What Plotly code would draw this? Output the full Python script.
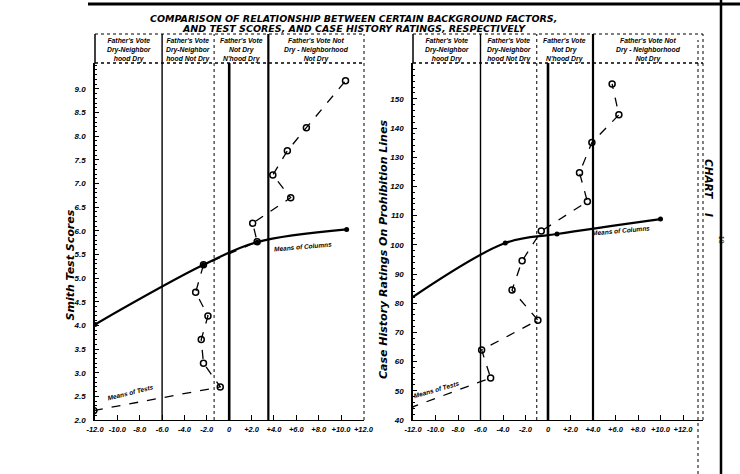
import plotly.graph_objects as go

W, H = 740, 474

# ---------------- data ----------------
x_tick_vals = [-12, -10, -8, -6, -4, -2, 0, 2, 4, 6, 8, 10, 12]
x_tick_text = ["-12.0", "-10.0", "-8.0", "-6.0", "-4.0", "-2.0", "0",
               "+2.0", "+4.0", "+6.0", "+8.0", "+10.0", "+12.0"]

left_y_ticks = [2.0, 2.5, 3.0, 3.5, 4.0, 4.5, 5.0, 5.5, 6.0, 6.5, 7.0, 7.5, 8.0, 8.5, 9.0]
left_y_text = ["2.0", "2.5", "3.0", "3.5", "4.0", "4.5", "5.0", "5.5",
               "6.0", "6.5", "7.0", "7.5", "8.0", "8.5", "9.0"]

right_y_ticks = [40, 50, 60, 70, 80, 90, 100, 110, 120, 130, 140, 150]
right_y_text = ["40", "50", "60", "70", "80", "90", "100", "110", "120", "130", "140", "150"]

# Smith Test Scores (left)
left_tests_x = [-12.1, -0.8, -2.3, -2.5, -1.9, -3.0, -2.3, 2.5, 2.1, 5.5, 3.9, 5.2, 6.9, 10.4]
left_tests_y = [2.2, 2.7, 3.2, 3.7, 4.2, 4.7, 5.28, 5.77, 6.16, 6.7, 7.18, 7.69, 8.18, 9.17]
left_cols_x = [-12.0, -2.3, 2.5, 10.5]
left_cols_y = [4.02, 5.28, 5.76, 6.03]
left_bounds = [-6.0, -1.35, 0.0, 3.5]

# Case History Ratings (right)
right_tests_x = [-12.3, -5.1, -5.9, -0.9, -3.2, -2.3, -0.6, 3.5, 2.8, 3.9, 6.3, 5.7]
right_tests_y = [44.1, 54.4, 64.0, 74.2, 84.5, 94.5, 104.7, 114.8, 124.7, 135.0, 144.5, 155.1]
right_cols_x = [-12.3, -3.8, 0.8, 10.0]
right_cols_y = [81.4, 100.6, 103.7, 108.8]
right_bounds = [-6.0, -1.0, 0.0, 4.0]

headers = ["Father's Vote<br>Dry-Neighbor<br>hood Dry",
           "Father's Vote<br>Dry-Neighbor<br>hood Not Dry",
           "Father's Vote<br>Not Dry<br>N'hood Dry",
           "Father's Vote Not<br>Dry - Neighborhood<br>Not Dry"]

title_lines = ["COMPARISON OF RELATIONSHIP BETWEEN CERTAIN BACKGROUND FACTORS,",
               "AND TEST SCORES, AND CASE HISTORY RATINGS, RESPECTIVELY"]

# ---------------- layout helpers ----------------
def px_x(p):
    return p / W

def px_y(p):
    return 1 - p / H

FONT = "Liberation Sans"
tick_font = dict(family=FONT, size=8, color="black", weight="bold", style="italic")
xtick_font = dict(family=FONT, size=7.5, color="black", weight="bold", style="italic")

Y_BOT, Y_TOP, Y_HEAD = 420, 63, 34
L_X0, L_X1 = 95, 364
R_X0, R_X1 = 413, 703

fig = go.Figure()

fig.add_trace(go.Scatter(x=left_tests_x, y=left_tests_y, mode="lines+markers",
                         line=dict(color="black", width=1.3, dash="dash"),
                         marker=dict(symbol="circle-open", size=6, color="black", line=dict(width=1.5)),
                         xaxis="x", yaxis="y", showlegend=False))
fig.add_trace(go.Scatter(x=left_cols_x, y=left_cols_y, mode="lines+markers", line_shape="spline",
                         line=dict(color="black", width=2.2),
                         marker=dict(symbol="circle", size=5, color="black"),
                         xaxis="x", yaxis="y", showlegend=False))
fig.add_trace(go.Scatter(x=right_tests_x, y=right_tests_y, mode="lines+markers",
                         line=dict(color="black", width=1.3, dash="dash"),
                         marker=dict(symbol="circle-open", size=6, color="black", line=dict(width=1.5)),
                         xaxis="x2", yaxis="y2", showlegend=False))
fig.add_trace(go.Scatter(x=right_cols_x, y=right_cols_y, mode="lines+markers", line_shape="spline",
                         line=dict(color="black", width=2.2),
                         marker=dict(symbol="circle", size=5, color="black"),
                         xaxis="x2", yaxis="y2", showlegend=False))

ydom = [px_y(Y_BOT), px_y(Y_TOP)]
common_x = dict(tickvals=x_tick_vals, ticktext=x_tick_text, tickfont=xtick_font, tickangle=0,
                showline=True, linecolor="black", linewidth=1.2, ticks="inside",
                ticklen=5, tickcolor="black", showgrid=False, zeroline=False,
                automargin=False, fixedrange=True, ticklabelstandoff=2)
common_y = dict(tickfont=tick_font, showline=True, linecolor="black", linewidth=1.5,
                ticks="inside", ticklen=4, tickcolor="black", showgrid=False,
                zeroline=False, automargin=False, fixedrange=True, ticklabelstandoff=6)

fig.update_layout(
    width=W, height=H, margin=dict(l=0, r=0, t=0, b=0), autosize=False,
    paper_bgcolor="white", plot_bgcolor="white",
    xaxis=dict(domain=[px_x(L_X0), px_x(L_X1)], range=[-12, (L_X1 - 229) / 11.2],
               anchor="y", **common_x),
    yaxis=dict(domain=ydom, range=[2.0, 2.0 + (Y_BOT - Y_TOP) / 47.3], anchor="x",
               tickvals=left_y_ticks, ticktext=left_y_text,
               minor=dict(ticks="inside", ticklen=2, dtick=0.1, tickcolor="black"), **common_y),
    xaxis2=dict(domain=[px_x(R_X0), px_x(R_X1)], range=[-12, (R_X1 - 548) / 11.25],
                anchor="y2", **common_x),
    yaxis2=dict(domain=ydom, range=[40, 40 + (Y_BOT - Y_TOP) / 2.92], anchor="x2",
                tickvals=right_y_ticks, ticktext=right_y_text,
                minor=dict(ticks="inside", ticklen=2, dtick=2, tickcolor="black"), **common_y),
)

shapes = []
# top page rule and right binding rule
shapes.append(dict(type="line", xref="paper", yref="paper", x0=px_x(88), x1=1,
                   y0=px_y(4), y1=px_y(4), line=dict(color="black", width=3)))
shapes.append(dict(type="line", xref="paper", yref="paper", x0=px_x(721), x1=px_x(721),
                   y0=0, y1=1, line=dict(color="black", width=2.5)))
shapes.append(dict(type="line", xref="paper", yref="paper", x0=px_x(698), x1=px_x(698),
                   y0=px_y(474), y1=px_y(40), line=dict(color="black", width=1, dash="dot")))

for (x0, x1, xr, bounds) in [(L_X0, L_X1, "x", left_bounds), (R_X0, R_X1, "x2", right_bounds)]:
    # header box
    shapes.append(dict(type="line", xref="paper", yref="paper", x0=px_x(x0), x1=px_x(x1),
                       y0=px_y(Y_HEAD), y1=px_y(Y_HEAD), line=dict(color="black", width=1, dash="dot")))
    shapes.append(dict(type="line", xref="paper", yref="paper", x0=px_x(x0), x1=px_x(x1),
                       y0=px_y(Y_TOP), y1=px_y(Y_TOP), line=dict(color="black", width=1.3, dash="dot")))
    shapes.append(dict(type="line", xref="paper", yref="paper", x0=px_x(x0), x1=px_x(x0),
                       y0=px_y(Y_TOP), y1=px_y(Y_HEAD), line=dict(color="black", width=1.5)))
    shapes.append(dict(type="line", xref="paper", yref="paper", x0=px_x(x1), x1=px_x(x1),
                       y0=px_y(Y_BOT), y1=px_y(Y_HEAD), line=dict(color="black", width=1, dash="dot")))
    styles = [dict(width=1.4, dash="solid"), dict(width=1, dash="dot"),
              dict(width=2.6, dash="solid"), dict(width=2.2, dash="solid")]
    for i, (b, st) in enumerate(zip(bounds, styles)):
        top = Y_TOP if i == 2 else Y_HEAD
        shapes.append(dict(type="line", xref=xr, yref="paper", x0=b, x1=b,
                           y0=px_y(Y_BOT), y1=px_y(top), line=dict(color="black", **st)))

annotations = []
hfont = dict(family=FONT, size=6.8, color="black", weight="bold", style="italic")
for xr, bounds, xmax in [("x", left_bounds, (L_X1 - 229) / 11.2), ("x2", right_bounds, (R_X1 - 548) / 11.25)]:
    edges = [-12, bounds[0], bounds[1], bounds[3], xmax]
    for i, txt in enumerate(headers):
        annotations.append(dict(xref=xr, yref="paper", x=(edges[i] + edges[i + 1]) / 2,
                                y=px_y((Y_HEAD + Y_TOP) / 2 + 1), text=txt, showarrow=False,
                                font=hfont, align="center", yanchor="middle"))

tfont = dict(family="DejaVu Sans", size=9.5, color="black", weight="bold", style="italic")
annotations.append(dict(xref="paper", yref="paper", x=px_x(353), y=px_y(11),
                        text=title_lines[0], showarrow=False, font=tfont))
annotations.append(dict(xref="paper", yref="paper", x=px_x(354), y=px_y(21),
                        text=title_lines[1], showarrow=False, font=tfont))

afont = dict(family="DejaVu Sans", size=11, color="black", weight="bold", style="italic")
annotations.append(dict(xref="paper", yref="paper", x=px_x(61), y=px_y(265),
                        text="Smith Test Scores", textangle=-90, showarrow=False, font=afont))
annotations.append(dict(xref="paper", yref="paper", x=px_x(383), y=px_y(250),
                        text="Case History Ratings On Prohibition Lines", textangle=-90,
                        showarrow=False, font=afont))

sfont = dict(family=FONT, size=6.5, color="black", weight="bold", style="italic")
annotations.append(dict(xref="paper", yref="paper", x=px_x(104), y=px_y(404),
                        text="Means of Tests", textangle=-14, showarrow=False, font=sfont))
annotations.append(dict(xref="paper", yref="paper", x=px_x(303), y=px_y(247),
                        text="Means of Columns", textangle=-5, showarrow=False, font=sfont))
annotations.append(dict(xref="paper", yref="paper", x=px_x(436), y=px_y(402),
                        text="Means of Tests", textangle=-16, showarrow=False, font=sfont))
annotations.append(dict(xref="paper", yref="paper", x=px_x(652), y=px_y(230),
                        text="Means of Columns", textangle=-5, showarrow=False, font=sfont))

cfont = dict(family="DejaVu Sans", size=10.5, color="black", weight="bold", style="italic")
annotations.append(dict(xref="paper", yref="paper", x=px_x(717), y=px_y(188),
                        text="CHART    I", textangle=90, showarrow=False, font=cfont))
annotations.append(dict(xref="paper", yref="paper", x=px_x(727), y=px_y(240),
                        text="-18-", textangle=90, showarrow=False,
                        font=dict(family=FONT, size=7, color="black")))

fig.update_layout(shapes=shapes, annotations=annotations)
fig.write_html("out.html")
